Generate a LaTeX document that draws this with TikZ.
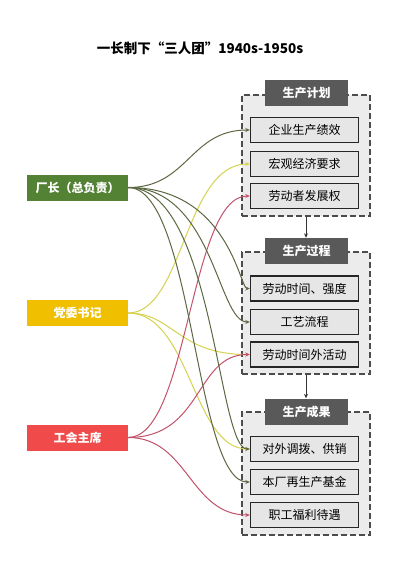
\documentclass[tikz,border=0pt]{standalone}
\usepackage{fontspec}
\setmainfont{Noto Sans CJK SC}
\usetikzlibrary{arrows.meta}
\definecolor{dkline}{RGB}{92,104,66}
\definecolor{ylline}{RGB}{214,210,80}
\definecolor{rdline}{RGB}{194,82,106}
\definecolor{gbox}{RGB}{84,130,53}
\definecolor{ybox}{RGB}{240,192,0}
\definecolor{rbox}{RGB}{240,74,74}
\definecolor{hdr}{RGB}{89,89,89}
\definecolor{grpfill}{RGB}{236,236,236}
\definecolor{itemfill}{RGB}{230,230,230}
\begin{document}
\begin{tikzpicture}[x=1pt,y=-1pt,
  grp/.style={draw=black!70,dash pattern=on 6pt off 3pt,line width=1.1pt,fill=grpfill,minimum width=128pt,inner sep=0pt},
  hdrbox/.style={fill=hdr,text=white,font=\fontsize{12}{12}\selectfont\bfseries,minimum width=83pt,minimum height=26pt,inner sep=0pt},
  itembox/.style={draw=black!85,line width=1.4pt,fill=itemfill,font=\fontsize{12}{12}\selectfont,minimum width=108pt,minimum height=25pt,inner sep=0pt},
  actor/.style={text=white,font=\fontsize{12}{12}\selectfont\bfseries,minimum width=101pt,minimum height=26pt,inner sep=0pt},
  link/.style={line width=1pt,-{Stealth[length=4.5pt,width=4pt]}},
  dk/.style={link,draw=dkline},
  yl/.style={link,draw=ylline},
  rd/.style={link,draw=rdline},
  flow/.style={draw=black!80,line width=0.8pt,-{Stealth[length=4.5pt,width=4pt]}}
]
\useasboundingbox[fill=white] (0,0) rectangle (400,579);

\node[font=\fontsize{13.5}{14}\selectfont\bfseries] (title) at (200,48) {一长制下“三人团”1940s-1950s};

% groups
\node[grp,minimum height=121pt] (g1) at (306,155.5) {};
\node[grp,minimum height=122pt] (g2) at (306,313) {};
\node[grp,minimum height=123pt] (g3) at (306,473.5) {};

\node[hdrbox] (h1) at (306.5,93) {生产计划};
\node[hdrbox] (h2) at (306.5,251) {生产过程};
\node[hdrbox] (h3) at (306.5,411.5) {生产成果};

\node[itembox] (a1) at (304.5,130) {企业生产绩效};
\node[itembox] (a2) at (304.5,164) {宏观经济要求};
\node[itembox] (a3) at (304.5,196) {劳动者发展权};
\node[itembox] (b1) at (304.5,288.5) {劳动时间、强度};
\node[itembox] (b2) at (304.5,322) {工艺流程};
\node[itembox] (b3) at (304.5,354.5) {劳动时间外活动};
\node[itembox] (c1) at (304.5,449) {对外调拨、供销};
\node[itembox] (c2) at (304.5,482) {本厂再生产基金};
\node[itembox] (c3) at (304.5,515) {职工福利待遇};

\draw[flow] (g1.south) -- (g1.south |- h2.north);
\draw[flow] (g2.south) -- (g2.south |- h3.north);

% actors
\node[actor,fill=gbox] (cz) at (77.5,187.5) {厂长（总负责）};
\node[actor,fill=ybox] (dw) at (77.5,313) {党委书记};
\node[actor,fill=rbox] (gh) at (77.5,437.5) {工会主席};

% links
\draw[yl] (dw.east) .. controls +(55,0) and +(-65,0) .. (a2.west);
\draw[yl] (dw.east) .. controls +(45,0) and +(-72,0) .. (b3.west);
\draw[yl] (dw.east) .. controls +(62,0) and +(-57,0) .. (c1.west);

\draw[rd] (gh.east) .. controls +(60,0) and +(-60,0) .. (a3.west);
\draw[rd] (gh.east) .. controls +(75,0) and +(-55,0) .. (b3.west);
\draw[rd] (gh.east) .. controls +(60,0) and +(-60,0) .. (c3.west);

\draw[dk] (cz.east) .. controls +(60,0) and +(-60,0) .. (a1.west);
\draw[dk] (cz.east) .. controls +(100,0) and +(-10,0) .. (b1.west);
\draw[dk] (cz.east) .. controls +(85,0) and +(-32,0) .. (b2.west);
\draw[dk] (cz.east) .. controls +(85,0) and +(-32,0) .. (c1.west);
\draw[dk] (cz.east) .. controls +(65,0) and +(-55,0) .. (c2.west);
\end{tikzpicture}
\end{document}
